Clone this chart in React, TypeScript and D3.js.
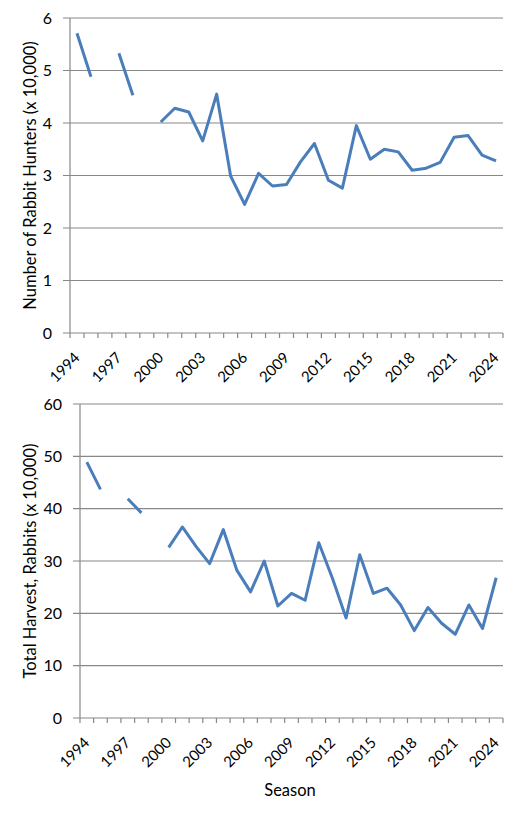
import React from "react";
import * as d3 from "d3";

const years = [1994, 1995, 1996, 1997, 1998, 1999, 2000, 2001, 2002, 2003, 2004, 2005, 2006, 2007, 2008, 2009, 2010, 2011, 2012, 2013, 2014, 2015, 2016, 2017, 2018, 2019, 2020, 2021, 2022, 2023, 2024];
const labeledYears = [1994, 1997, 2000, 2003, 2006, 2009, 2012, 2015, 2018, 2021, 2024];

const hunters: (number | null)[] = [5.71, 4.88, null, 5.33, 4.53, null, 4.02, 4.28, 4.21, 3.66, 4.55, 2.99, 2.45, 3.04, 2.80, 2.83, 3.26, 3.61, 2.91, 2.76, 3.95, 3.31, 3.50, 3.45, 3.10, 3.14, 3.25, 3.73, 3.76, 3.39, 3.28];
const harvest: (number | null)[] = [48.9, 43.7, null, 41.9, 39.2, null, 32.6, 36.5, 32.8, 29.5, 36.0, 28.2, 24.1, 30.0, 21.4, 23.8, 22.5, 33.5, 26.7, 19.1, 31.2, 23.8, 24.8, 21.6, 16.7, 21.1, 18.1, 16.0, 21.6, 17.1, 26.8];

const hunterTicks = [0, 1, 2, 3, 4, 5, 6];
const harvestTicks = [0, 10, 20, 30, 40, 50, 60];

const FONT = "Lato, 'Open Sans', sans-serif";
const GRID = "#888888";
const LINE = "#4a7ebb";

type PanelProps = {
  values: (number | null)[];
  ticks: number[];
  max: number;
  left: number;
  right: number;
  top: number;
  bottom: number;
  title: string;
  titleX: number;
};

function Panel({ values, ticks, max, left, right, top, bottom, title, titleX }: PanelProps) {
  const x = d3.scaleBand<number>().domain(years).range([left, right]).padding(0);
  const y = d3.scaleLinear().domain([0, max]).range([bottom, top]);
  const cx = (yr: number) => (x(yr) as number) + x.bandwidth() / 2;
  const line = d3
    .line<number | null>()
    .defined((d) => d != null)
    .x((_, i) => cx(years[i]))
    .y((d) => y(d as number));
  const boundaries = years.map((yr) => x(yr) as number).concat([right]);
  return (
    <g>
      {ticks.map((t) => (
        <g key={t}>
          <line x1={left - 7} x2={right} y1={y(t)} y2={y(t)} stroke={GRID} strokeWidth={1.2} />
          <text x={left - 18} y={y(t)} dy="0.36em" textAnchor="end" fontSize={16} fontFamily={FONT} fill="#000">
            {t}
          </text>
        </g>
      ))}
      <line x1={left} x2={left} y1={top} y2={bottom} stroke={GRID} strokeWidth={1.2} />
      {boundaries.map((bx, i) => (
        <line key={i} x1={bx} x2={bx} y1={bottom} y2={bottom + 5} stroke={GRID} strokeWidth={1.2} />
      ))}
      {labeledYears.map((yr) => (
        <text
          key={yr}
          transform={`translate(${cx(yr)},${bottom + 22}) rotate(-45)`}
          dy="0.35em"
          textAnchor="end"
          fontSize={15}
          fontFamily={FONT}
          fill="#000"
        >
          {yr}
        </text>
      ))}
      <text
        transform={`translate(${titleX},${(top + bottom) / 2}) rotate(-90)`}
        textAnchor="middle"
        fontSize={16.5}
        fontFamily={FONT}
        fill="#000"
      >
        {title}
      </text>
      <path d={line(values) || ""} fill="none" stroke={LINE} strokeWidth={3} strokeLinejoin="round" />
    </g>
  );
}

export default function App() {
  return (
    <svg width={525} height={816} style={{ position: "absolute", left: 0, top: 0, background: "#fff" }}>
      <rect width={525} height={816} fill="#fff" />
      <Panel values={hunters} ticks={hunterTicks} max={6} left={70} right={503} top={18} bottom={333} title="Number of Rabbit Hunters (x 10,000)" titleX={36} />
      <Panel values={harvest} ticks={harvestTicks} max={60} left={80} right={503} top={404} bottom={718} title="Total Harvest, Rabbits (x 10,000)" titleX={36} />
      <text x={290} y={796} textAnchor="middle" fontSize={16.5} fontFamily={FONT} fill="#000">
        Season
      </text>
    </svg>
  );
}
